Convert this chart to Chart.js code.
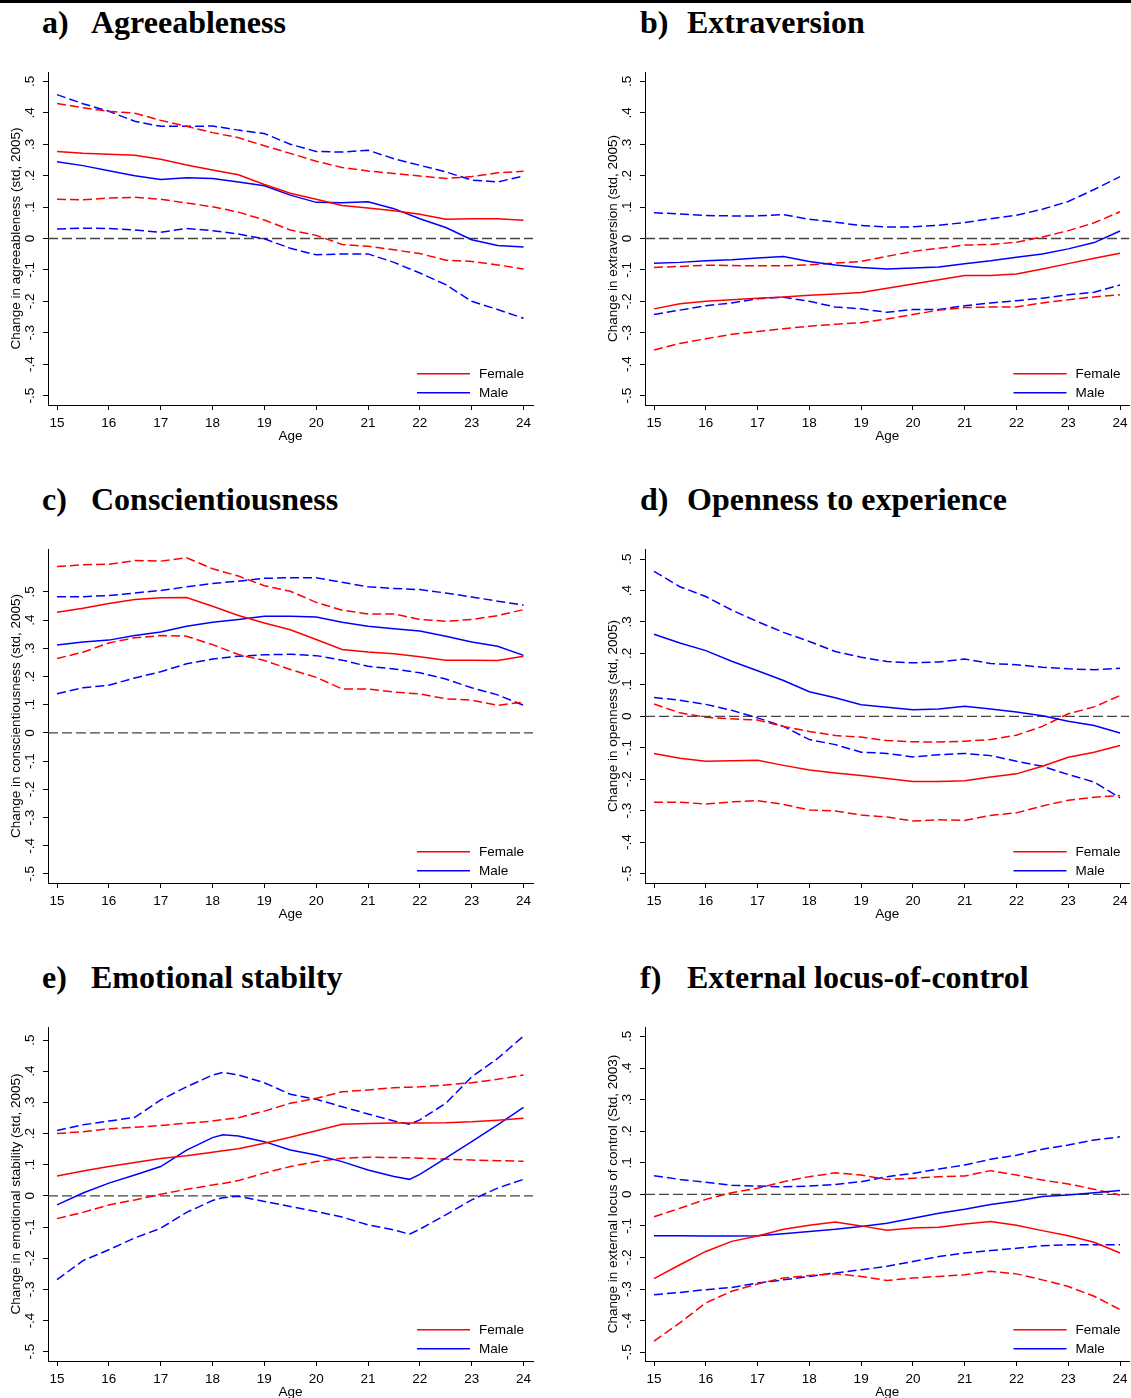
<!DOCTYPE html>
<html>
<head>
<meta charset="utf-8">
<script src="https://cdn.jsdelivr.net/npm/chart.js@4.4.1/dist/chart.umd.min.js"></script>
<style>
  html, body { margin: 0; padding: 0; background: #fff; overflow: hidden; }
  body { position: relative; width: 1131px; height: 1398px; }
  .rule { position: absolute; left: 0; top: 0; width: 1131px; height: 3px; background: #000; }
  .ttl { position: absolute; font: bold 32px/32px "Liberation Serif", "Times New Roman", serif; color: #000; white-space: nowrap; }
  canvas { position: absolute; }
</style>
</head>
<body>
<div class="rule"></div>
<script>
// ages on the x axis
const AGES = [15, 15.5, 16, 16.5, 17, 17.5, 18, 18.5, 19, 19.5, 20, 20.5, 21, 21.5, 22, 22.5, 23, 23.5, 24];
const AGES_E = [15, 15.5, 16, 16.5, 17, 17.5, 18, 18.2, 18.5, 19, 19.5, 20, 20.5, 21, 21.5, 21.8, 22, 22.5, 23, 23.5, 24];
const X_TICKS = [15, 16, 17, 18, 19, 20, 21, 22, 23, 24];
const Y_TICKS = [-0.5, -0.4, -0.3, -0.2, -0.1, 0, 0.1, 0.2, 0.3, 0.4, 0.5];

// a) Agreeableness
const A_F    = [0.277,0.271,0.268,0.265,0.252,0.234,0.218,0.203,0.172,0.144,0.125,0.105,0.097,0.088,0.077,0.061,0.063,0.063,0.058];
const A_F_HI = [0.430,0.416,0.405,0.399,0.376,0.357,0.337,0.321,0.295,0.271,0.246,0.226,0.215,0.207,0.199,0.191,0.197,0.209,0.214];
const A_F_LO = [0.125,0.123,0.129,0.131,0.125,0.113,0.101,0.084,0.059,0.027,0.010,-0.019,-0.025,-0.036,-0.048,-0.069,-0.073,-0.084,-0.097];
const A_M    = [0.244,0.232,0.216,0.200,0.188,0.193,0.191,0.180,0.168,0.138,0.115,0.114,0.117,0.095,0.063,0.035,-0.004,-0.022,-0.027];
const A_M_HI = [0.458,0.429,0.405,0.373,0.357,0.357,0.358,0.345,0.334,0.300,0.277,0.275,0.281,0.254,0.233,0.212,0.186,0.180,0.199];
const A_M_LO = [0.030,0.033,0.032,0.027,0.020,0.032,0.025,0.014,-0.001,-0.031,-0.052,-0.049,-0.049,-0.076,-0.110,-0.147,-0.200,-0.226,-0.254];

// b) Extraversion
const B_F    = [-0.224,-0.208,-0.200,-0.195,-0.190,-0.186,-0.181,-0.177,-0.172,-0.158,-0.145,-0.131,-0.118,-0.118,-0.113,-0.097,-0.080,-0.063,-0.047];
const B_F_HI = [-0.092,-0.089,-0.085,-0.086,-0.087,-0.087,-0.084,-0.078,-0.073,-0.057,-0.041,-0.031,-0.021,-0.019,-0.012,0.005,0.025,0.050,0.085];
const B_F_LO = [-0.355,-0.334,-0.319,-0.305,-0.296,-0.287,-0.279,-0.273,-0.268,-0.256,-0.242,-0.228,-0.220,-0.218,-0.218,-0.205,-0.195,-0.186,-0.179];
const B_M    = [-0.079,-0.076,-0.071,-0.068,-0.062,-0.057,-0.073,-0.084,-0.092,-0.097,-0.094,-0.091,-0.080,-0.071,-0.060,-0.049,-0.033,-0.013,0.024];
const B_M_HI = [0.082,0.078,0.073,0.072,0.072,0.076,0.061,0.052,0.041,0.037,0.037,0.042,0.051,0.063,0.074,0.093,0.118,0.156,0.197];
const B_M_LO = [-0.242,-0.228,-0.214,-0.205,-0.192,-0.187,-0.200,-0.218,-0.224,-0.235,-0.226,-0.226,-0.214,-0.205,-0.198,-0.190,-0.179,-0.171,-0.148];

// c) Conscientiousness
const C_F    = [0.428,0.442,0.459,0.473,0.479,0.480,0.449,0.416,0.390,0.366,0.331,0.296,0.287,0.281,0.270,0.258,0.258,0.257,0.272];
const C_F_HI = [0.590,0.596,0.598,0.611,0.609,0.621,0.582,0.556,0.522,0.502,0.463,0.435,0.422,0.422,0.402,0.396,0.402,0.416,0.437];
const C_F_LO = [0.264,0.286,0.319,0.337,0.345,0.343,0.313,0.278,0.257,0.225,0.197,0.156,0.156,0.145,0.138,0.121,0.116,0.098,0.109];
const C_M    = [0.312,0.322,0.329,0.345,0.358,0.378,0.392,0.402,0.414,0.414,0.411,0.392,0.378,0.369,0.361,0.343,0.322,0.307,0.275];
const C_M_HI = [0.483,0.483,0.487,0.496,0.505,0.518,0.530,0.538,0.548,0.550,0.550,0.534,0.518,0.512,0.508,0.496,0.482,0.467,0.453];
const C_M_LO = [0.139,0.160,0.169,0.195,0.217,0.245,0.262,0.272,0.277,0.279,0.274,0.258,0.236,0.227,0.213,0.191,0.160,0.135,0.098];

// d) Openness to experience
const D_F    = [-0.118,-0.133,-0.143,-0.141,-0.140,-0.156,-0.171,-0.180,-0.188,-0.198,-0.207,-0.207,-0.205,-0.193,-0.183,-0.159,-0.130,-0.114,-0.093];
const D_F_HI = [0.039,0.011,-0.003,-0.008,-0.012,-0.032,-0.048,-0.061,-0.066,-0.077,-0.081,-0.082,-0.079,-0.074,-0.060,-0.032,0.008,0.030,0.066];
const D_F_LO = [-0.273,-0.273,-0.279,-0.272,-0.268,-0.280,-0.298,-0.301,-0.314,-0.320,-0.333,-0.329,-0.331,-0.315,-0.307,-0.285,-0.267,-0.257,-0.252];
const D_M    = [0.261,0.233,0.209,0.175,0.145,0.114,0.078,0.059,0.037,0.029,0.021,0.023,0.032,0.023,0.014,0.002,-0.016,-0.029,-0.053];
const D_M_HI = [0.461,0.412,0.381,0.338,0.301,0.267,0.238,0.206,0.188,0.174,0.170,0.173,0.182,0.168,0.164,0.156,0.151,0.148,0.153];
const D_M_LO = [0.060,0.051,0.038,0.019,-0.005,-0.032,-0.074,-0.090,-0.114,-0.118,-0.129,-0.122,-0.118,-0.125,-0.143,-0.159,-0.185,-0.209,-0.259];

// e) Emotional stability (ages in AGES_E)
const E_F    = [0.064,0.080,0.094,0.107,0.120,0.129,0.140,0.145,0.151,0.169,0.188,0.209,0.230,0.232,0.234,0.234,0.234,0.235,0.238,0.243,0.249];
const E_F_HI = [0.200,0.206,0.215,0.220,0.226,0.233,0.240,0.245,0.251,0.272,0.297,0.313,0.334,0.340,0.347,0.349,0.350,0.356,0.363,0.374,0.388];
const E_F_LO = [-0.073,-0.053,-0.029,-0.013,0.005,0.021,0.035,0.040,0.049,0.073,0.094,0.110,0.121,0.124,0.123,0.122,0.121,0.118,0.115,0.113,0.111];
const E_M    = [-0.029,0.009,0.041,0.067,0.094,0.147,0.187,0.196,0.192,0.174,0.147,0.131,0.110,0.083,0.062,0.053,0.069,0.121,0.174,0.228,0.284];
const E_M_HI = [0.210,0.228,0.240,0.252,0.308,0.350,0.388,0.396,0.388,0.363,0.326,0.310,0.286,0.263,0.240,0.230,0.244,0.297,0.382,0.441,0.513];
const E_M_LO = [-0.269,-0.208,-0.173,-0.135,-0.104,-0.053,-0.015,-0.006,-0.001,-0.018,-0.034,-0.050,-0.068,-0.093,-0.109,-0.123,-0.107,-0.061,-0.013,0.025,0.053];

// f) External locus-of-control
const F_F    = [-0.267,-0.223,-0.181,-0.149,-0.132,-0.111,-0.098,-0.088,-0.100,-0.114,-0.107,-0.104,-0.094,-0.086,-0.098,-0.115,-0.131,-0.152,-0.186];
const F_F_HI = [-0.071,-0.044,-0.016,0.005,0.019,0.040,0.056,0.068,0.061,0.047,0.051,0.056,0.058,0.075,0.061,0.045,0.033,0.016,-0.002];
const F_F_LO = [-0.465,-0.407,-0.344,-0.307,-0.284,-0.265,-0.257,-0.252,-0.260,-0.273,-0.265,-0.260,-0.255,-0.244,-0.252,-0.271,-0.292,-0.323,-0.365];
const F_M    = [-0.131,-0.131,-0.132,-0.132,-0.131,-0.125,-0.118,-0.111,-0.102,-0.092,-0.076,-0.060,-0.047,-0.032,-0.021,-0.007,-0.002,0.005,0.012];
const F_M_HI = [0.059,0.047,0.038,0.029,0.026,0.024,0.026,0.031,0.040,0.056,0.066,0.080,0.093,0.111,0.124,0.143,0.156,0.172,0.182];
const F_M_LO = [-0.318,-0.311,-0.302,-0.295,-0.281,-0.271,-0.260,-0.249,-0.239,-0.228,-0.213,-0.197,-0.186,-0.178,-0.171,-0.163,-0.160,-0.160,-0.160];

const LEGEND = ['Female', 'Male'];
const RED = '#ff0000', BLUE = '#0000ff';
const X_MIN = 14.826, X_MAX = 24.183;

const PANELS = [
  { tag: 'a)', title: 'Agreeableness', yTitle: 'Change in agreeableness (std, 2005)', ages: AGES,
    f: [A_F, A_F_HI, A_F_LO], m: [A_M, A_M_HI, A_M_LO], yMin: -0.53, yMax: 0.53, col: 0, row: 0 },
  { tag: 'b)', title: 'Extraversion', yTitle: 'Change in extraversion (std, 2005)', ages: AGES,
    f: [B_F, B_F_HI, B_F_LO], m: [B_M, B_M_HI, B_M_LO], yMin: -0.53, yMax: 0.53, col: 1, row: 0 },
  { tag: 'c)', title: 'Conscientiousness', yTitle: 'Change in conscientiousness (std, 2005)', ages: AGES,
    f: [C_F, C_F_HI, C_F_LO], m: [C_M, C_M_HI, C_M_LO], yMin: -0.532, yMax: 0.652, col: 0, row: 1 },
  { tag: 'd)', title: 'Openness to experience', yTitle: 'Change in openness (std, 2005)', ages: AGES,
    f: [D_F, D_F_HI, D_F_LO], m: [D_M, D_M_HI, D_M_LO], yMin: -0.53, yMax: 0.532, col: 1, row: 1 },
  { tag: 'e)', title: 'Emotional stabilty', yTitle: 'Change in emotional stability (std, 2005)', ages: AGES_E,
    f: [E_F, E_F_HI, E_F_LO], m: [E_M, E_M_HI, E_M_LO], yMin: -0.53, yMax: 0.542, col: 0, row: 2 },
  { tag: 'f)', title: 'External locus-of-control', yTitle: 'Change in external locus of control (Std, 2003)', ages: AGES,
    f: [F_F, F_F_HI, F_F_LO], m: [F_M, F_M_HI, F_M_LO], yMin: -0.528, yMax: 0.53, col: 1, row: 2 }
];

// layout
const COLS = [
  { left: 0, width: 560, areaLeft: 48, areaRight: 533, tagX: 42, titleX: 91 },
  { left: 566, width: 568, areaLeft: 645, areaRight: 1129.5, tagX: 640, titleX: 687 }
];
const ROWS = [
  { areaTop: 72, areaBottom: 405, baseline: 33 },
  { areaTop: 549, areaBottom: 883, baseline: 510 },
  { areaTop: 1027, areaBottom: 1361, baseline: 988 }
];
const Y_AXIS_W = 48, X_AXIS_H = 40, TOP_PAD = 20;
const FONT = { family: 'Liberation Sans, Arial, sans-serif', size: 13.5, lineHeight: 1.2 };

function yLabel(v) {
  if (Math.abs(v) < 1e-9) return '0';
  return (v < 0 ? '-' : '') + '.' + Math.round(Math.abs(v) * 10);
}

const stataLegend = {
  id: 'stataLegend',
  afterDraw(chart) {
    const { ctx, chartArea: ca } = chart;
    const colors = [RED, BLUE];
    ctx.save();
    ctx.font = FONT.size + 'px ' + FONT.family;
    ctx.textBaseline = 'middle';
    ctx.fillStyle = '#000';
    LEGEND.forEach((label, i) => {
      const y = ca.bottom - 31.2 + i * 19;
      ctx.strokeStyle = colors[i];
      ctx.lineWidth = 1.5;
      ctx.setLineDash([]);
      ctx.beginPath();
      ctx.moveTo(ca.right - 116, y);
      ctx.lineTo(ca.right - 63, y);
      ctx.stroke();
      ctx.fillText(label, ca.right - 54, y);
    });
    ctx.restore();
  }
};

function line(ages, values, color, dashed) {
  return {
    data: ages.map((a, i) => ({ x: a, y: values[i] })),
    borderColor: color,
    borderWidth: 1.5,
    borderDash: dashed ? [9, 4] : [],
    pointRadius: 0,
    tension: 0,
    fill: false
  };
}

PANELS.forEach(p => {
  const col = COLS[p.col], row = ROWS[p.row];

  const tag = document.createElement('div');
  tag.className = 'ttl';
  tag.textContent = p.tag;
  tag.style.left = col.tagX + 'px';
  tag.style.top = (row.baseline - 26.8) + 'px';
  document.body.appendChild(tag);
  const ttl = document.createElement('div');
  ttl.className = 'ttl';
  ttl.textContent = p.title;
  ttl.style.left = col.titleX + 'px';
  ttl.style.top = (row.baseline - 26.8) + 'px';
  document.body.appendChild(ttl);

  const canvas = document.createElement('canvas');
  const h = row.areaBottom - row.areaTop + TOP_PAD + X_AXIS_H;
  canvas.width = col.width;
  canvas.height = h;
  canvas.style.left = col.left + 'px';
  canvas.style.top = (row.areaTop - TOP_PAD) + 'px';
  canvas.style.width = col.width + 'px';
  canvas.style.height = h + 'px';
  document.body.appendChild(canvas);

  const datasets = [
    line(p.ages, p.f[0], RED, false),
    line(p.ages, p.m[0], BLUE, false),
    line(p.ages, p.f[1], RED, true),
    line(p.ages, p.f[2], RED, true),
    line(p.ages, p.m[1], BLUE, true),
    line(p.ages, p.m[2], BLUE, true),
    { data: [{ x: X_MIN, y: 0 }, { x: X_MAX, y: 0 }], borderColor: '#444', borderWidth: 1.3,
      borderDash: [10, 4], pointRadius: 0, fill: false }
  ];

  new Chart(canvas.getContext('2d'), {
    type: 'line',
    data: { datasets },
    plugins: [stataLegend],
    options: {
      responsive: false,
      animation: false,
      devicePixelRatio: 1,
      layout: { padding: {
        left: col.areaLeft - col.left - Y_AXIS_W,
        right: col.left + col.width - col.areaRight,
        top: TOP_PAD, bottom: 0 } },
      plugins: { legend: { display: false }, tooltip: { enabled: false } },
      scales: {
        x: {
          type: 'linear', min: X_MIN, max: X_MAX,
          afterBuildTicks: s => { s.ticks = X_TICKS.map(v => ({ value: v })); },
          afterFit: s => { s.height = X_AXIS_H; },
          ticks: { color: '#000', font: FONT, padding: 5, maxRotation: 0, autoSkip: false,
                   callback: v => String(v) },
          grid: { drawOnChartArea: false, drawTicks: true, tickLength: 5, color: '#000', lineWidth: 1 },
          border: { color: '#000', width: 1 },
          title: { display: true, text: 'Age', color: '#000', font: FONT, padding: { top: 0, bottom: 1 } }
        },
        y: {
          type: 'linear', min: p.yMin, max: p.yMax,
          afterBuildTicks: s => { s.ticks = Y_TICKS.map(v => ({ value: v })); },
          afterFit: s => { s.width = Y_AXIS_W; },
          ticks: { color: '#000', font: FONT, padding: 5, minRotation: 90, maxRotation: 90,
                   crossAlign: 'center', autoSkip: false, callback: v => yLabel(v) },
          grid: { drawOnChartArea: false, drawTicks: true, tickLength: 5, color: '#000', lineWidth: 1 },
          border: { color: '#000', width: 1 },
          title: { display: true, text: p.yTitle, color: '#000', font: FONT, padding: { top: 8, bottom: 0 } }
        }
      }
    }
  });
});
</script>
</body>
</html>
